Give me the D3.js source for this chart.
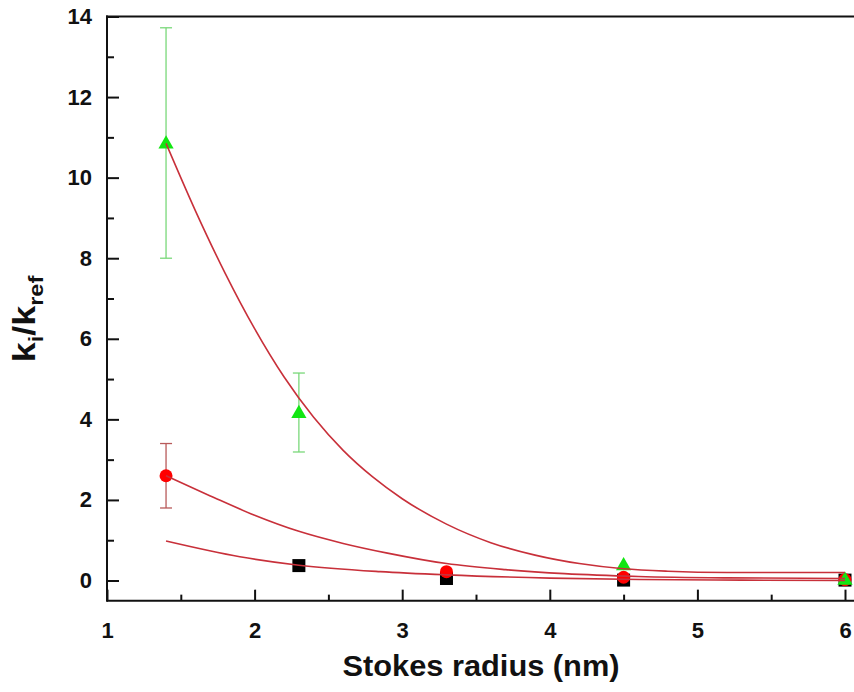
<!DOCTYPE html>
<html>
<head>
<meta charset="utf-8">
<script src="https://cdn.jsdelivr.net/npm/d3@7"></script>
<style>
  body { margin: 0; background: #fff; }
  svg { display: block; font-family: "Liberation Sans", Arial, sans-serif; }
</style>
</head>
<body>
<svg id="chart" width="854" height="692"></svg>
<script>
// measured points: [x, y, err]
var green = [[1.4, 10.86, 2.86], [2.3, 4.17, 0.98], [4.5, 0.39, 0], [6.0, 0.03, 0]]
var red = [[1.4, 2.6, 0.8], [3.3, 0.22, 0], [4.5, 0.08, 0], [6.0, 0.02, 0]]
var black = [[2.3, 0.37], [3.3, 0.05], [4.5, 0.01], [6.0, 0.01]]
// fit curves
var fitGreen = [[1.4, 10.85], [1.6, 9.17], [1.8, 7.63], [2.0, 6.25], [2.2, 5.05], [2.4, 4.05], [2.6, 3.23], [2.8, 2.57], [3.0, 2.03], [3.3, 1.4], [3.6, 0.94], [3.9, 0.63], [4.2, 0.42], [4.5, 0.29], [4.8, 0.23], [5.2, 0.2], [5.6, 0.2], [6.0, 0.2]]
var fitRed = [[1.4, 2.6], [1.7, 2.1], [2.0, 1.62], [2.3, 1.22], [2.6, 0.92], [2.9, 0.68], [3.3, 0.42], [3.7, 0.27], [4.1, 0.17], [4.6, 0.1], [5.2, 0.065], [6.0, 0.05]]
var fitBlack = [[1.4, 0.98], [1.9, 0.59], [2.3, 0.38], [2.85, 0.22], [3.3, 0.14], [4.0, 0.06], [4.61, 0.025], [5.3, 0.01], [6.0, 0.0]]
var xTicks = [1, 2, 3, 4, 5, 6]
var xMinor = [1.5, 2.5, 3.5, 4.5, 5.5]
var yTicks = [0, 2, 4, 6, 8, 10, 12, 14]
var yMinor = [1, 3, 5, 7, 9, 11, 13]

var svg = d3.select('#chart')
var W = 854, H = 692
var x = d3.scaleLinear().domain([1, 6]).range([107, 845])
var y = d3.scaleLinear().domain([0, 14]).range([580.5, 16.5])
var yBot = y(-0.5), yTop = y(14)

var frame = svg.append('g')
// major/minor ticks (inward)
var ax = frame.append('g').attr('transform', `translate(0,${yBot})`)
ax.call(d3.axisBottom(x).tickValues(xTicks).tickSize(-11).tickPadding(22).tickFormat(d3.format('d')))
ax.append('g').call(d3.axisBottom(x).tickValues(xMinor).tickSize(-6).tickFormat(''))
var ay = frame.append('g').attr('transform', `translate(${x(1)},0)`)
ay.call(d3.axisLeft(y).tickValues(yTicks).tickSize(-12).tickPadding(15).tickFormat(d3.format('d')))
ay.append('g').call(d3.axisLeft(y).tickValues(yMinor).tickSize(-7).tickFormat(''))
frame.selectAll('.domain').remove()
frame.selectAll('.tick line').attr('stroke', '#111').attr('stroke-width', 2)
frame.selectAll('.tick text').attr('fill', '#111').attr('font-size', 22).attr('font-weight', 'bold')
  .attr('font-family', '"Liberation Sans", Arial, sans-serif')

// frame lines
frame.append('line').attr('x1', x(1)).attr('x2', W).attr('y1', yBot).attr('y2', yBot).attr('stroke', '#111').attr('stroke-width', 2)
frame.append('line').attr('x1', x(1)).attr('x2', x(1)).attr('y1', yTop - 1).attr('y2', yBot + 1).attr('stroke', '#111').attr('stroke-width', 2)
frame.append('line').attr('x1', x(1) - 1).attr('x2', W).attr('y1', yTop).attr('y2', yTop).attr('stroke', '#111').attr('stroke-width', 2)

// error bars
function errBars(data, col) {
  var g = svg.append('g').attr('stroke', col).attr('stroke-width', 1.3)
  data.filter(d => d[2] > 0).forEach(d => {
    g.append('line').attr('x1', x(d[0])).attr('x2', x(d[0])).attr('y1', y(d[1] - d[2])).attr('y2', y(d[1] + d[2]))
    ;[d[1] - d[2], d[1] + d[2]].forEach(v => {
      g.append('line').attr('x1', x(d[0]) - 6).attr('x2', x(d[0]) + 6).attr('y1', y(v)).attr('y2', y(v))
    })
  })
}
errBars(green, '#7ad87a')
errBars(red, '#b85a5a')

// markers
svg.append('g').selectAll('rect').data(black).join('rect')
  .attr('x', d => x(d[0]) - 6.5).attr('y', d => y(d[1]) - 6.5)
  .attr('width', 13).attr('height', 13).attr('fill', '#000')
svg.append('g').selectAll('circle').data(red).join('circle')
  .attr('cx', d => x(d[0])).attr('cy', d => y(d[1])).attr('r', 6.5).attr('fill', '#f00')
svg.append('g').selectAll('path').data(green).join('path')
  .attr('d', d3.symbol(d3.symbolTriangle, 100))
  .attr('transform', d => `translate(${x(d[0])},${y(d[1]) + 1})`)
  .attr('fill', '#12e612')

// fit curves
var line = d3.line().x(d => x(d[0])).y(d => y(d[1])).curve(d3.curveMonotoneX)
;[fitGreen, fitRed, fitBlack].forEach(c => {
  svg.append('path').datum(c).attr('d', line).attr('fill', 'none')
    .attr('stroke', '#c8303a').attr('stroke-width', 1.6)
})

// axis titles
svg.append('text').attr('x', 481).attr('y', 676).attr('text-anchor', 'middle')
  .attr('font-size', 29).attr('font-weight', 'bold').attr('fill', '#111')
  .attr('textLength', 277).attr('lengthAdjust', 'spacingAndGlyphs')
  .text('Stokes radius (nm)')
var yl = svg.append('text').attr('transform', 'translate(35,319) rotate(-90) scale(1.12,1)')
  .attr('text-anchor', 'middle').attr('font-size', 32).attr('font-weight', 'bold').attr('fill', '#111')
yl.append('tspan').text('k')
yl.append('tspan').attr('dy', 8).attr('font-size', 21).text('i')
yl.append('tspan').attr('dy', -8).text('/k')
yl.append('tspan').attr('dy', 8).attr('font-size', 21).text('ref')
</script>
</body>
</html>
